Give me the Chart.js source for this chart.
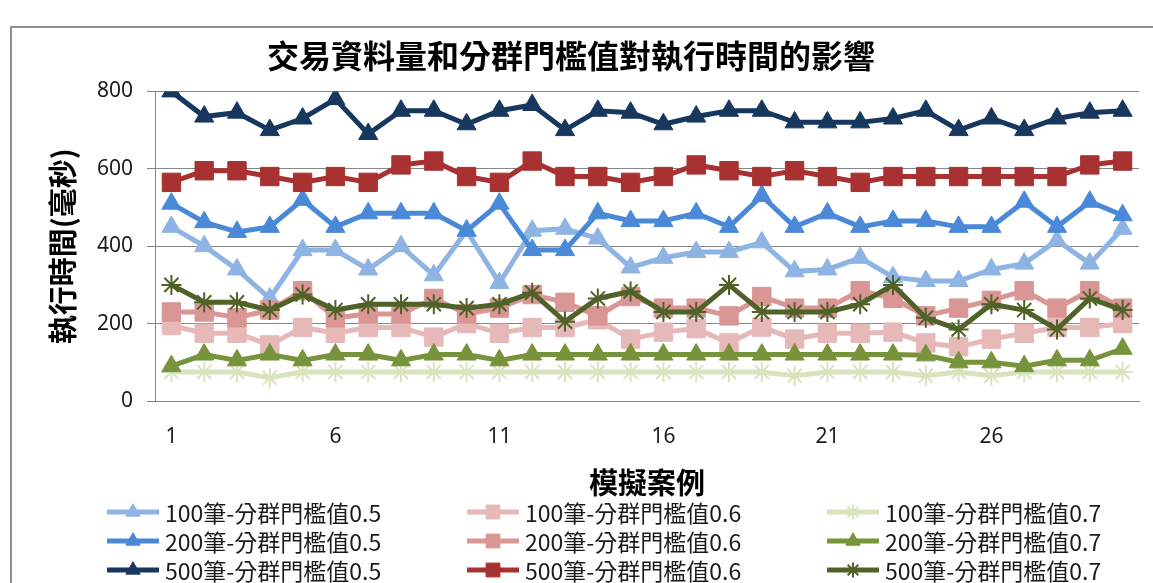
<!DOCTYPE html>
<html>
<head>
<meta charset="utf-8">
<script src="https://cdn.jsdelivr.net/npm/chart.js@4/dist/chart.umd.min.js"></script>
<style>
  html, body { margin: 0; padding: 0; background: #ffffff; overflow: hidden; }
  #frame { position: absolute; left: 10px; top: 26px; width: 1300px; height: 700px;
           border: 2px solid #8f8f8f; box-sizing: border-box; }
  #chart { position: absolute; left: 0; top: 0; }
</style>
</head>
<body>
<div id="frame"></div>
<canvas id="chart" width="1153" height="583"></canvas>
<script>
// Simulation cases on the category axis
const caseLabels = ['1','2','3','4','5','6','7','8','9','10','11','12','13','14','15',
                    '16','17','18','19','20','21','22','23','24','25','26','27','28','29','30'];
// Tick values on the time axis (ms)
const timeTicks = [0, 200, 400, 600, 800];

// Execution time (ms) per case, by record count and clustering threshold
const n100_t05 = [450, 400, 340, 265, 390, 390, 340, 400, 325, 440, 305, 440, 445, 420, 345,
                  370, 385, 385, 410, 335, 340, 370, 320, 310, 310, 340, 355, 415, 355, 445];
const n100_t06 = [195, 175, 175, 145, 190, 175, 190, 190, 165, 200, 175, 190, 190, 210, 160,
                  178, 187, 150, 191, 160, 175, 175, 178, 150, 140, 160, 175, 190, 190, 200];
const n100_t07 = [75, 75, 75, 60, 75, 75, 75, 75, 75, 75, 75, 75, 75, 75, 75,
                  75, 75, 75, 75, 65, 75, 75, 75, 65, 75, 65, 75, 75, 75, 75];
const n200_t05 = [510, 462, 437, 450, 520, 450, 485, 485, 485, 440, 510, 390, 390, 485, 465,
                  465, 485, 450, 530, 450, 485, 450, 465, 465, 450, 450, 515, 450, 515, 480];
const n200_t06 = [230, 230, 215, 235, 285, 215, 225, 225, 265, 225, 240, 275, 255, 220, 270,
                  240, 240, 220, 270, 240, 240, 285, 265, 220, 240, 260, 285, 240, 285, 240];
const n200_t07 = [90, 120, 105, 120, 105, 120, 120, 105, 120, 120, 105, 120, 120, 120, 120,
                  120, 120, 120, 120, 120, 120, 120, 120, 118, 100, 100, 90, 105, 105, 135];
const n500_t05 = [800, 735, 745, 700, 730, 780, 690, 750, 750, 715, 750, 765, 700, 750, 745,
                  715, 735, 750, 750, 720, 720, 720, 730, 750, 700, 730, 700, 730, 745, 750];
const n500_t06 = [565, 595, 595, 580, 565, 580, 565, 610, 620, 580, 565, 620, 580, 580, 565,
                  580, 610, 595, 580, 595, 580, 565, 580, 580, 580, 580, 580, 580, 610, 620];
const n500_t07 = [300, 255, 255, 235, 275, 235, 250, 250, 250, 240, 250, 280, 205, 265, 283,
                  230, 230, 300, 230, 230, 230, 250, 300, 215, 185, 250, 235, 185, 265, 235];

const seriesNames = ['100筆-分群門檻值0.5', '100筆-分群門檻值0.6', '100筆-分群門檻值0.7',
                     '200筆-分群門檻值0.5', '200筆-分群門檻值0.6', '200筆-分群門檻值0.7',
                     '500筆-分群門檻值0.5', '500筆-分群門檻值0.6', '500筆-分群門檻值0.7'];
const seriesValues = [n100_t05, n100_t06, n100_t07, n200_t05, n200_t06, n200_t07, n500_t05, n500_t06, n500_t07];

const seriesColors = ['#8eb4e3', '#e6b9b8', '#d7e4bd',
                      '#4a88d8', '#d99694', '#77933c',
                      '#17375e', '#a83232', '#4f6228'];
const seriesMarkers = ['triangle', 'rect', 'star',
                       'triangle', 'rect', 'triangle',
                       'triangle', 'rect', 'star'];

const CJK = '"Noto Sans CJK TC", "Noto Sans", sans-serif';

function markerRadius(style) {
  if (style === 'rect') return 13;
  if (style === 'star') return 10;
  return 11;
}

const datasets = seriesNames.map((name, i) => {
  const style = seriesMarkers[i];
  const isStar = style === 'star';
  return {
    label: name,
    data: seriesValues[i],
    borderColor: seriesColors[i],
    backgroundColor: seriesColors[i],
    borderWidth: 5,
    tension: 0,
    pointStyle: style,
    pointRadius: markerRadius(style),
    pointHoverRadius: markerRadius(style),
    pointBackgroundColor: seriesColors[i],
    pointBorderColor: seriesColors[i],
    pointBorderWidth: isStar ? 2 : 1,
    order: seriesNames.length - i
  };
});

// Legend laid out as a 3 x 3 grid under the axis title
const gridLegend = {
  id: 'gridLegend',
  afterDraw(chart, args, opts) {
    const ctx = chart.ctx;
    ctx.save();
    chart.data.datasets.forEach((ds, i) => {
      const col = i % 3;
      const row = Math.floor(i / 3);
      const x = opts.left + col * opts.colGap;
      const y = opts.top + row * opts.rowGap;
      ctx.strokeStyle = ds.borderColor;
      ctx.lineWidth = ds.borderWidth;
      ctx.lineCap = 'butt';
      ctx.beginPath();
      ctx.moveTo(x, y);
      ctx.lineTo(x + opts.lineLength, y);
      ctx.stroke();
      ctx.fillStyle = ds.pointBackgroundColor;
      ctx.strokeStyle = ds.pointBorderColor;
      ctx.lineWidth = ds.pointBorderWidth;
      Chart.helpers.drawPoint(ctx, {
        pointStyle: ds.pointStyle,
        radius: ds.pointRadius * 0.75,
        borderWidth: ds.pointBorderWidth,
        rotation: 0
      }, x + opts.lineLength / 2, y);
      ctx.fillStyle = opts.color;
      ctx.font = opts.font;
      ctx.textAlign = 'left';
      ctx.textBaseline = 'middle';
      ctx.fillText(ds.label, x + opts.lineLength + 6, y + 1);
    });
    ctx.restore();
  }
};

new Chart(document.getElementById('chart'), {
  type: 'line',
  data: { labels: caseLabels, datasets },
  plugins: [gridLegend],
  options: {
    responsive: false,
    animation: false,
    devicePixelRatio: 1,
    layout: { padding: { left: 0, right: 11, top: 0, bottom: 82 } },
    plugins: {
      legend: { display: false },
      tooltip: { enabled: false },
      title: {
        display: true,
        text: '交易資料量和分群門檻值對執行時間的影響',
        color: '#000000',
        font: { family: CJK, size: 32, weight: 'bold' },
        padding: { top: 37, bottom: 16 }
      },
      gridLegend: {
        left: 107, colGap: 360, top: 512, rowGap: 29, lineLength: 52,
        font: '23px ' + CJK, color: '#1a1a1a'
      }
    },
    scales: {
      x: {
        type: 'category',
        offset: true,
        afterFit: (s) => { s.height = 100; },
        grid: { display: false, drawTicks: false },
        border: { display: true, color: '#868686', width: 1 },
        ticks: {
          autoSkip: false,
          maxRotation: 0,
          padding: 23,
          color: '#1a1a1a',
          font: { family: '"Noto Sans", sans-serif', size: 21 },
          callback: function (value, index) {
            return index % 5 === 0 ? this.getLabelForValue(value) : '';
          }
        },
        title: {
          display: true,
          text: '模擬案例',
          color: '#000000',
          font: { family: CJK, size: 29, weight: 'bold' },
          padding: { top: 0, bottom: 1 }
        }
      },
      y: {
        min: timeTicks[0],
        max: timeTicks[timeTicks.length - 1],
        afterFit: (s) => { s.width = 155; },
        afterBuildTicks: (s) => { s.ticks = timeTicks.map(v => ({ value: v })); },
        grid: { color: '#868686', lineWidth: 1, drawTicks: true, tickLength: 8 },
        border: { display: true, color: '#868686', width: 1 },
        ticks: {
          padding: 14,
          color: '#1a1a1a',
          font: { family: '"Noto Sans", sans-serif', size: 21 }
        },
        title: {
          display: true,
          text: '執行時間(毫秒)',
          color: '#000000',
          font: { family: CJK, size: 29, weight: 'bold' },
          padding: { top: 46, bottom: 0 }
        }
      }
    }
  }
});
</script>
</body>
</html>
